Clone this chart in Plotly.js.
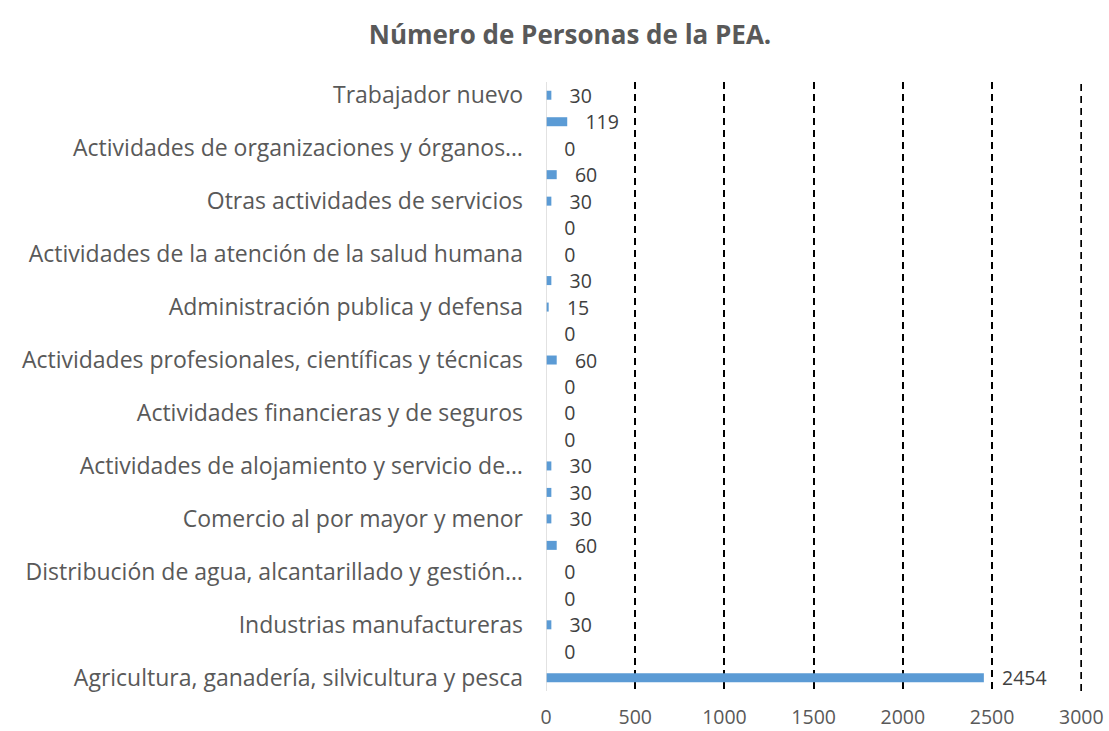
<!DOCTYPE html>
<html>
<head>
<meta charset="utf-8">
<script src="https://cdn.plot.ly/plotly-3.0.1.min.js"></script>
<style>html,body{margin:0;padding:0;background:#fff;}#chart{width:1109px;height:731px;}</style>
</head>
<body>
<div id="chart"></div>
<script>
const categories = [
  "Agricultura, ganadería, silvicultura y pesca",
  "Explotación de minas y canteras",
  "Industrias manufactureras",
  "Suministro de electricidad, gas, vapor y aire acondicionado",
  "Distribución de agua, alcantarillado y gestión de desechos",
  "Construcción",
  "Comercio al por mayor y menor",
  "Transporte y almacenamiento",
  "Actividades de alojamiento y servicio de comidas",
  "Información y comunicaciones",
  "Actividades financieras y de seguros",
  "Actividades inmobiliarias",
  "Actividades profesionales, científicas y técnicas",
  "Actividades de servicios administrativos y de apoyo",
  "Administración publica y defensa",
  "Enseñanza",
  "Actividades de la atención de la salud humana",
  "Actividades artísticas, de entretenimiento y recreativas",
  "Otras actividades de servicios",
  "Actividades de los hogares como empleadores",
  "Actividades de organizaciones y órganos extraterritoriales",
  "Actividades no especificadas",
  "Trabajador nuevo"
];
const values = [2454, 0, 30, 0, 0, 60, 30, 30, 30, 0, 0, 0, 60, 0, 15, 30, 0, 0, 30, 60, 0, 119, 30];
const shownTickIdx = [0, 2, 4, 6, 8, 10, 12, 14, 16, 18, 20, 22];
const shownTickText = [
  "Agricultura, ganadería, silvicultura y pesca",
  "Industrias manufactureras",
  "Distribución de agua, alcantarillado y gestión…",
  "Comercio al por mayor y menor",
  "Actividades de alojamiento y servicio de…",
  "Actividades financieras y de seguros",
  "Actividades profesionales, científicas y técnicas",
  "Administración publica y defensa",
  "Actividades de la atención de la salud humana",
  "Otras actividades de servicios",
  "Actividades de organizaciones y órganos…",
  "Trabajador nuevo"
];
const xTicks = [0, 500, 1000, 1500, 2000, 2500, 3000];
const xMax = 3000;

const font = "'Open Sans', 'Liberation Sans', sans-serif";
const NB = "\u00a0\u00a0\u00a0";

const trace = {
  type: "bar",
  orientation: "h",
  x: values,
  y: categories,
  marker: {color: "#5B9BD5"},
  text: values.map(v => NB + v),
  textposition: "outside",
  constraintext: "none",
  cliponaxis: false,
  textfont: {family: font, size: 19.5, color: "#404040"},
  hoverinfo: "x+y"
};

const layout = {
  width: 1109,
  height: 731,
  paper_bgcolor: "#fff",
  plot_bgcolor: "#fff",
  margin: {l: 546, r: 27, t: 82, b: 40},
  showlegend: false,
  bargap: 0.66,
  title: {
    text: "<b>Número de Personas de la PEA.</b>",
    font: {family: font, size: 26, color: "#595959"},
    x: 0.514, xanchor: "center",
    y: 0.952, yanchor: "middle"
  },
  xaxis: {
    range: [0, 3004],
    tickvals: xTicks,
    ticktext: xTicks.map(String),
    showgrid: true,
    gridcolor: "#000",
    gridwidth: 2,
    griddash: "7px,5px",
    zeroline: false,
    showline: false,
    ticks: "",
    ticklabelstandoff: 12,
    tickfont: {family: font, size: 19.5, color: "#595959"}
  },
  yaxis: {
    type: "category",
    categoryorder: "array",
    categoryarray: categories,
    range: [-0.5, categories.length - 0.5],
    tickvals: shownTickIdx.map(i => categories[i]),
    ticktext: shownTickText,
    showgrid: false,
    zeroline: false,
    showline: false,
    ticks: "",
    ticklabelstandoff: 22,
    tickfont: {family: font, size: 23, color: "#595959"}
  },
  shapes: [
    {
      type: "line", xref: "x", yref: "paper",
      x0: 0, x1: 0, y0: 0, y1: 1,
      line: {color: "#D9D9D9", width: 1.5}
    },
    {
      type: "line", xref: "x", yref: "paper", layer: "below",
      x0: xMax, x1: xMax, y0: 0, y1: 1,
      line: {color: "#000", width: 2, dash: "7px,5px"}
    }
  ]
};

Plotly.newPlot("chart", [trace], layout, {displayModeBar: false, staticPlot: true});
</script>
</body>
</html>
